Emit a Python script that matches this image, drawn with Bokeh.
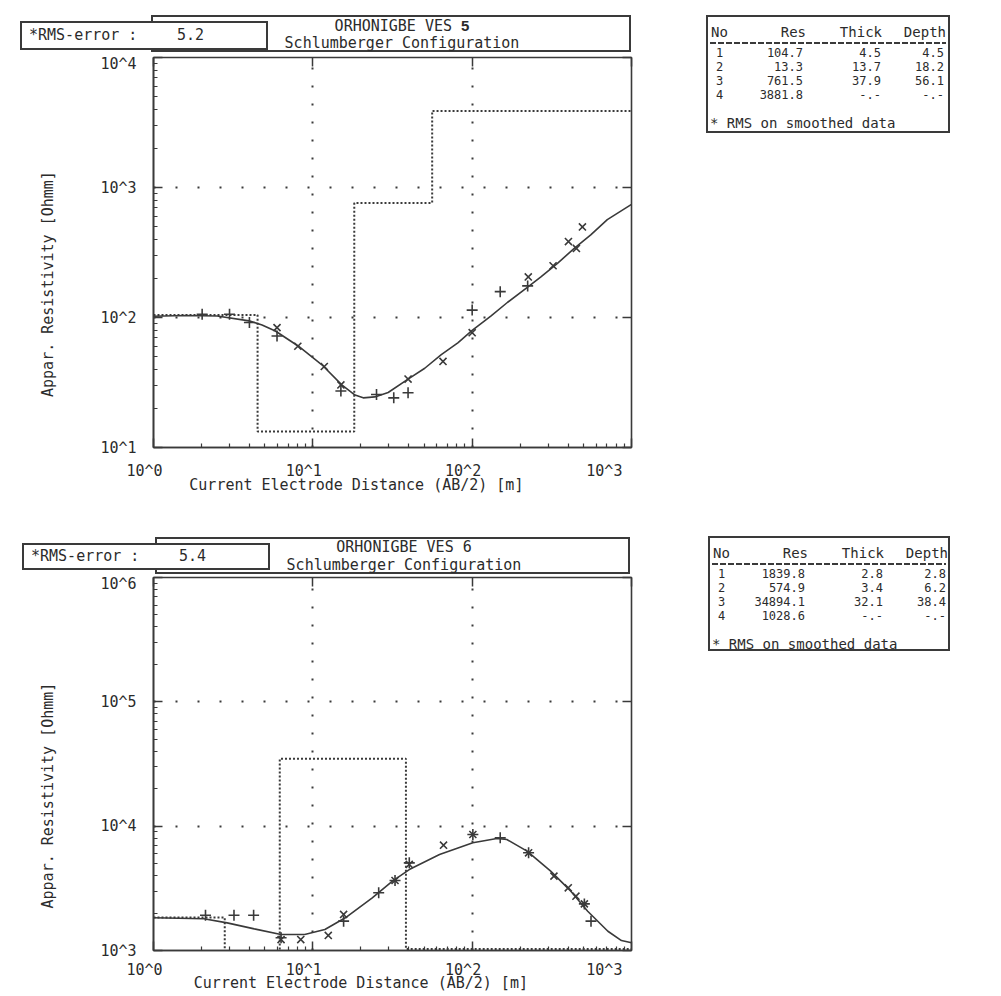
import math
from bokeh.plotting import figure
from bokeh.models import Range1d, FixedTicker, LogAxis, CustomJSTickFormatter, Div
from bokeh.layouts import column, row
from bokeh.embed import file_html
from bokeh.resources import INLINE

FONT = "DejaVu Sans Mono"
INK = "#3a3a3a"
TXT = "#2b2b2b"
NB = "\u00a0"

# ---------------- VES 5 ----------------
ves5_name = "ORHONIGBE VES"
ves5_no = "5"
ves5_rms = "5.2"
ves5_layer = ["1", "2", "3", "4"]
ves5_res = [104.7, 13.3, 761.5, 3881.8]
ves5_thick = ["4.5", "13.7", "37.9", "-.-"]
ves5_depth_label = ["4.5", "18.2", "56.1", "-.-"]
ves5_depth = [4.5, 18.2, 56.1]
ves5_field_ab2 = [2.02, 3.0, 4.0, 5.96, 15.0, 25.1, 32.2, 39.6, 100, 150, 223]
ves5_field_rho = [106, 106, 91.5, 72, 27.2, 25.6, 24.1, 26.4, 114, 158, 175]
ves5_smooth_ab2 = [5.96, 8.05, 11.8, 15.0, 39.6, 65.6, 100, 225, 322, 402, 451, 492]
ves5_smooth_rho = [83.6, 60.1, 42.0, 30.3, 33.6, 45.9, 76.4, 205, 250, 384, 340, 497]
ves5_curve_ab2 = [1.0, 1.585, 2.51, 3.98, 4.80, 5.82, 8.13, 11.4, 15.2, 18.4, 20.7, 24.5, 29.7,
                  39.6, 50.4, 64.0, 81.3, 100, 131.5, 167, 223, 270, 343, 437, 555, 705, 1000]
ves5_curve_rho = [102.3, 103.5, 102.8, 94.2, 87.7, 78.7, 60.1, 43.3, 30.3, 25.3, 24.1, 24.5, 26.5,
                  33.6, 40.7, 51.8, 63.8, 79.6, 103, 131, 171, 205, 261, 340, 432, 566, 741]

# ---------------- VES 6 ----------------
ves6_name = "ORHONIGBE VES"
ves6_no = "6"
ves6_rms = "5.4"
ves6_layer = ["1", "2", "3", "4"]
ves6_res = [1839.8, 574.9, 34894.1, 1028.6]
ves6_thick = ["2.8", "3.4", "32.1", "-.-"]
ves6_depth_label = ["2.8", "6.2", "38.4", "-.-"]
ves6_depth = [2.8, 6.2, 38.4]
ves6_field_ab2 = [2.12, 3.2, 4.25, 6.32, 15.6, 25.9, 32.8, 40.3, 101, 150, 226, 506, 557]
ves6_field_rho = [1923, 1923, 1923, 1265, 1722, 2911, 3656, 5070, 8570, 8054, 6109, 2371, 1722]
ves6_smooth_ab2 = [6.32, 8.4, 12.5, 15.6, 32.8, 40.3, 66.1, 101, 226, 326, 401, 448, 506]
ves6_smooth_rho = [1225, 1225, 1321, 1950, 3656, 4920, 7031, 8570, 6109, 3963, 3192, 2735, 2371]
ves6_curve_ab2 = [1.0, 2.07, 2.90, 4.29, 6.31, 8.89, 11.9, 16.0, 23.6, 31.6, 40.3, 62.4, 101,
                  143, 165, 221, 311, 416, 531, 711, 865, 1000]
ves6_curve_rho = [1832, 1799, 1667, 1493, 1346, 1346, 1476, 1832, 2655, 3614, 4477, 5916, 7345,
                  7962, 7816, 6295, 4345, 3000, 2070, 1429, 1202, 1153]

subtitle = "Schlumberger Configuration"
x_title = "Current Electrode Distance (AB/2) [m]"
y_title = "Appar. Resistivity [Ohmm]"
rms_label = "*RMS-error :"
table_head = ["No", "Res", "Thick", "Depth"]
table_foot = "* RMS on smoothed data"

F_LEFT = 153
F_W = 478
LEFT_W = 640
RIGHT_W = 320


# ---------- small HTML helpers (header boxes and layer tables) ----------
def span(x, y, s, size=15, align="left", extra=""):
    top = y - 0.485 * size
    if align == "left":
        pos = f"left:{x}px;"
    elif align == "right":
        pos = f"left:{x - 300}px;width:300px;text-align:right;"
    else:
        pos = f"left:{x - 300}px;width:600px;text-align:center;"
    return (f'<div style="position:absolute;top:{top:.1f}px;{pos}font-size:{size}px;'
            f'line-height:{size}px;white-space:pre;{extra}">{s}</div>')


def rect(l, t, r, b):
    return (f'<div style="position:absolute;left:{l}px;top:{t}px;width:{r - l}px;height:{b - t}px;'
            f'box-sizing:border-box;border:2px solid {INK};background:white;"></div>')


def hline_dashed(l, r, y):
    return (f'<div style="position:absolute;left:{l}px;top:{y - 1}px;width:{r - l}px;height:2px;'
            f'background:repeating-linear-gradient(to right,{INK} 0 6px,transparent 6px 8px);"></div>')


def container(w, h, inner):
    return (f'<div style="position:relative;width:{w}px;height:{h}px;overflow:visible;'
            f"font-family:'{FONT}',monospace;color:{TXT};\">{inner}</div>")


def header_div(h, tbox, rbox, tcx, name, no, rms, bold_no):
    tl, tt, tr, tb = tbox
    rl, rt, rr, rb = rbox
    no_html = (f'<span style="font-family:\'Liberation Sans\',sans-serif;font-weight:bold;">{no}</span>'
               if bold_no else no)
    inner = (rect(tl, tt, tr, tb)
             + span(tcx, tt + 10.2, f"{name} {no_html}", align="center")
             + span(tcx, tt + 27.8, subtitle, align="center")
             + rect(rl, rt, rr, rb)
             + span(rl + 9, (rt + rb) / 2, rms_label)
             + span(rl + 157, (rt + rb) / 2, rms))
    return Div(text=container(LEFT_W, h, inner), width=LEFT_W, height=h, margin=(0, 0, 0, 0))


def table_div(h, box, layer, res, thick, depth_lbl):
    bl, bt, br, bb = box
    inner = rect(bl, bt, br, bb)
    hy = bt + 16.5
    inner += span(bl + 5, hy, table_head[0], size=14)
    for c, t in zip((bl + 100, bl + 176, bl + 240), table_head[1:]):
        inner += span(c, hy, t, size=14, align="right")
    inner += hline_dashed(bl + 4, br - 4, bt + 28)
    for i in range(len(layer)):
        ry = bt + 38 + i * 14
        inner += span(bl + 10, ry, layer[i], size=12)
        inner += span(bl + 97, ry, f"{res[i]:.1f}", size=12, align="right")
        inner += span(bl + 175, ry, thick[i], size=12, align="right")
        inner += span(bl + 238, ry, depth_lbl[i], size=12, align="right")
    inner += span(bl + 4, bt + 108, table_foot, size=14)
    return Div(text=container(RIGHT_W, h, inner), width=RIGHT_W, height=h, margin=(0, 0, 0, 0))


# ---------- the sounding curve plot ----------
def ves_plot(f_h, y_lo, res, depth, field_x, field_y, sm_x, sm_y, cv_x, cv_y,
             x_std, x_lab_std, x_pad, y_pad, bottom_border):
    y_hi = y_lo * 1000
    p = figure(x_axis_type="log", y_axis_type="log", x_range=Range1d(1, 1000), y_range=Range1d(y_lo, y_hi),
               frame_width=F_W, frame_height=f_h,
               min_border_left=F_LEFT, min_border_right=LEFT_W - F_LEFT - F_W,
               min_border_top=3, min_border_bottom=bottom_border,
               toolbar_location=None, output_backend="svg",
               background_fill_color="white", border_fill_color="white",
               outline_line_color=INK, outline_line_width=1.6)
    dec_x = [1, 10, 100, 1000]
    dec_y = [y_lo, y_lo * 10, y_lo * 100, y_lo * 1000]
    minor_x = [m * d for d in dec_x[:-1] for m in range(2, 10)]
    minor_y = [m * d for d in dec_y[:-1] for m in range(2, 10)]
    tx = FixedTicker(ticks=dec_x, minor_ticks=minor_x)
    ty = FixedTicker(ticks=dec_y, minor_ticks=minor_y)
    p.xaxis.ticker = tx
    p.yaxis.ticker = ty
    p.xgrid.ticker = tx
    p.ygrid.ticker = ty
    p.xaxis.formatter = CustomJSTickFormatter(
        code="return '10^' + Math.round(Math.log10(tick)) + '\\u00a0\\u00a0';")
    p.yaxis.formatter = CustomJSTickFormatter(code="return '10^' + Math.round(Math.log10(tick));")
    for ax in (p.xaxis, p.yaxis):
        ax.major_tick_in = 9
        ax.major_tick_out = 0
        ax.minor_tick_in = 4
        ax.minor_tick_out = 0
        ax.axis_line_color = INK
        ax.axis_line_width = 1.6
        ax.major_tick_line_color = INK
        ax.minor_tick_line_color = INK
        ax.major_tick_line_width = 1.5
        ax.minor_tick_line_width = 1.2
        ax.major_label_text_font = FONT
        ax.major_label_text_font_size = "15px"
        ax.major_label_text_color = TXT
        ax.axis_label_text_font = FONT
        ax.axis_label_text_font_size = "15px"
        ax.axis_label_text_font_style = "normal"
        ax.axis_label_text_color = TXT
    p.xaxis.major_label_standoff = x_std
    p.yaxis.major_label_standoff = 17
    p.xaxis.axis_label = x_title + NB * x_pad
    p.xaxis.axis_label_standoff = x_lab_std
    p.yaxis.axis_label = y_title + NB * y_pad
    p.yaxis.axis_label_standoff = 40
    for loc, dec in (("above", dec_x), ("right", dec_y)):
        ax = LogAxis(ticker=FixedTicker(ticks=dec), major_tick_in=9, major_tick_out=0,
                     minor_tick_in=0, minor_tick_out=0, major_label_text_font_size="1px",
                     major_label_text_alpha=0, major_label_standoff=0, axis_line_color=None,
                     major_tick_line_color=INK, major_tick_line_width=1.5)
        p.add_layout(ax, loc)
    for g, dash in ((p.xgrid, "2 16"), (p.ygrid, "2 20")):
        g.grid_line_color = INK
        g.grid_line_width = 2
        g.grid_line_dash = dash

    # layer model (dotted staircase)
    step_x = [1] + list(depth) + [1000]
    step_y = list(res) + [res[-1]]
    p.step(step_x, step_y, mode="after", line_color=INK, line_width=2, line_dash="2 2")
    # fitted model curve
    p.line(cv_x, cv_y, line_color=INK, line_width=1.6)
    # field data (+) and smoothed data (x)
    p.scatter(field_x, field_y, marker="cross", size=11, line_color=INK, line_width=1.6)
    p.scatter(sm_x, sm_y, marker="x", size=10, line_color=INK, line_width=1.6)
    return p


# ---- section 1 (VES 5): page y 0 .. 505 ----
hdr1 = header_div(54, (151, 15, 631, 52), (20, 21, 268, 50), 402,
                  ves5_name, ves5_no, ves5_rms, True)
plot1 = ves_plot(390, 10, ves5_res, ves5_depth, ves5_field_ab2, ves5_field_rho,
                 ves5_smooth_ab2, ves5_smooth_rho, ves5_curve_ab2, ves5_curve_rho,
                 14, -7, 8, 7, 58)
tbl1 = table_div(140, (66, 15, 310, 133), ves5_layer, ves5_res, ves5_thick, ves5_depth_label)

# ---- section 2 (VES 6): page y 505 .. 995 ----
hdr2 = header_div(69, (155, 32, 630, 69), (22, 38, 270, 65), 404,
                  ves6_name, ves6_no, ves6_rms, False)
plot2 = ves_plot(373, 1000, ves6_res, ves6_depth, ves6_field_ab2, ves6_field_rho,
                 ves6_smooth_ab2, ves6_smooth_rho, ves6_curve_ab2, ves6_curve_rho,
                 10, -8, 7, 7, 45)
tbl2 = table_div(160, (68, 31, 310, 146), ves6_layer, ves6_res, ves6_thick, ves6_depth_label)

layout = column(row(column(hdr1, plot1), tbl1), row(column(hdr2, plot2), tbl2))

open("out.html", "w").write(file_html(layout, INLINE, title="ORHONIGBE VES"))
